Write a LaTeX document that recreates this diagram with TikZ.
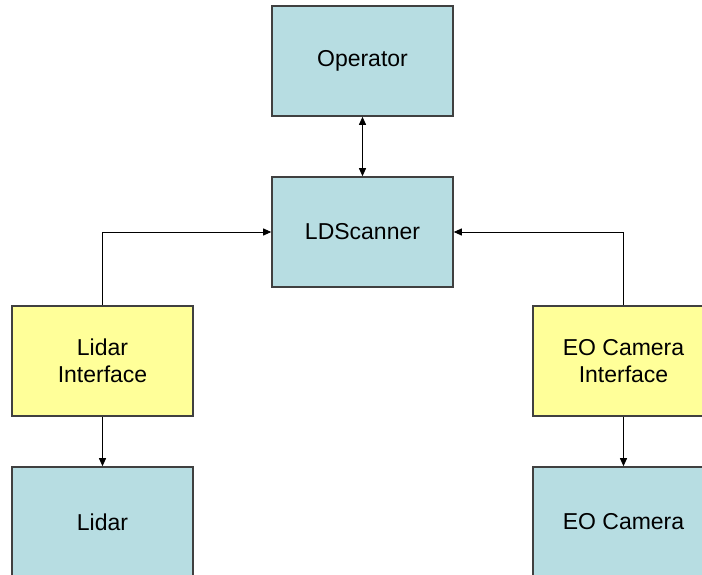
\documentclass[tikz,border=0pt]{standalone}
\usepackage{fontspec}
\setmainfont{Liberation Sans}
\usetikzlibrary{arrows.meta}
\definecolor{boxblue}{RGB}{183,221,226}
\definecolor{boxyellow}{RGB}{255,255,153}
\definecolor{boxedge}{RGB}{64,64,64}
\tikzset{
  block/.style={draw=boxedge, line width=1.6pt, minimum width=181pt, minimum height=110pt,
    inner sep=0pt, align=center, font=\fontsize{23}{27}\selectfont},
  compblock/.style={block, fill=boxblue},
  ifblock/.style={block, fill=boxyellow},
  link/.style={line width=0.9pt, -{Triangle[length=8pt,width=7pt]}},
}
\begin{document}
\begin{tikzpicture}[x=1pt,y=-1pt]
  \useasboundingbox (0,0) rectangle (702,575);
  \clip (0,0) rectangle (702,575);
  \fill[white] (0,0) rectangle (702,575);

  % components
  \node[compblock] (operator) at (362.5,61) {Operator};
  \node[compblock] (scanner)  at (362.5,232) {LDScanner};
  \node[ifblock]   (lidarif)  at (102.5,361) {Lidar\\Interface};
  \node[ifblock]   (camif)    at (623.5,361) {EO Camera\\Interface};
  \node[compblock] (lidar)    at (102.5,522) {Lidar};
  \node[compblock] (camera)   at (623.5,522) {EO Camera};

  % connections
  \draw[link, {Triangle[length=8pt,width=7pt]}-{Triangle[length=8pt,width=7pt]}] (operator) -- (scanner);
  \draw[link] (lidarif.north) |- (scanner.west);
  \draw[link] (camif.north) |- (scanner.east);
  \draw[link] (lidarif) -- (lidar);
  \draw[link] (camif) -- (camera);
\end{tikzpicture}
\end{document}
